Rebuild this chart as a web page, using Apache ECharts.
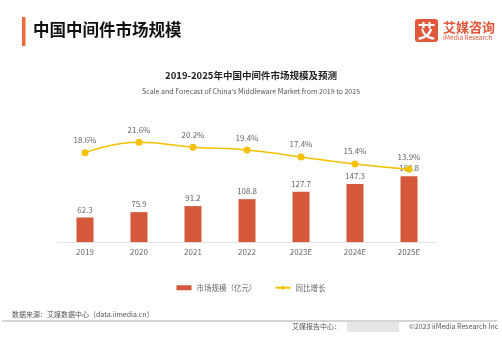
<!DOCTYPE html>
<html><head><meta charset="utf-8">
<script src="https://cdn.jsdelivr.net/npm/echarts@6/dist/echarts.min.js"></script>
<style>html,body{margin:0;padding:0;background:#fff}#c{width:502px;height:338px}</style>
</head><body><div id="c"></div>
<script>
var categories = ['2019','2020','2021','2022','2023E','2024E','2025E'];
var marketSize = [62.3, 75.9, 91.2, 108.8, 127.7, 147.3, 166.8];
var growthRate = [18.6, 21.6, 20.2, 19.4, 17.4, 15.4, 13.9];
var seriesNames = ['市场规模（亿元）', '同比增长'];

var FONT = '"Noto Sans CJK SC","Noto Sans",sans-serif';
var chart = echarts.init(document.getElementById('c'), null, {renderer:'canvas'});
chart.setOption({
  backgroundColor:'#fff',
  textStyle:{fontFamily:FONT},
  animation:false,
  title:[
    {text:'2019-2025年中国中间件市场规模及预测', left:'center', top:66,
     textStyle:{fontSize:9.5, fontWeight:'bold', color:'#222', fontFamily:FONT}},
    {text:'Scale and Forecast of China\'s Middleware Market from 2019 to 2025', left:'center', top:83,
     textStyle:{fontSize:7, fontWeight:'normal', color:'#555', fontFamily:FONT}}
  ],
  legend:{
    top:279, left:'center', itemGap:18, itemWidth:15, itemHeight:5,
    textStyle:{fontSize:7.5, color:'#666', fontFamily:FONT},
    data:[{name:seriesNames[0], icon:'rect'}, {name:seriesNames[1]}]
  },
  grid:{left:58, right:66, top:120, bottom:96},
  xAxis:{type:'category', data:categories,
    axisLine:{lineStyle:{color:'#e3e3e3'}}, axisTick:{show:false},
    axisLabel:{fontSize:8, color:'#666', margin:6, fontFamily:FONT}},
  yAxis:[
    {type:'value', min:0, max:310, show:false, splitLine:{show:false}},
    {type:'value', min:-7, max:28, show:false, splitLine:{show:false}}
  ],
  series:[
    {name:seriesNames[0], type:'bar', data:marketSize, barWidth:17, yAxisIndex:0,
     itemStyle:{color:'#D4583A'},
     label:{show:true, position:'top', fontSize:8, color:'#666', distance:4, fontFamily:FONT}},
    {name:seriesNames[1], type:'line', data:growthRate, yAxisIndex:1, smooth:true,
     symbol:'circle', symbolSize:7,
     lineStyle:{color:'#F5C000', width:1.5}, itemStyle:{color:'#F5C000'},
     label:{show:true, position:'top', fontSize:8, color:'#666', distance:5, fontFamily:FONT,
       formatter:function(p){return p.value.toFixed(1)+'%';}}}
  ],
  graphic:[
    {type:'rect', shape:{x:22, y:17, width:3.5, height:29}, style:{fill:'#EE6A3A'}},
    {type:'text', x:33, y:30, style:{text:'中国中间件市场规模', fontSize:16.5, fontWeight:'bold', fill:'#111', fontFamily:FONT, verticalAlign:'middle'}},
    {type:'rect', shape:{x:415, y:19, width:23, height:23, r:3}, style:{fill:'#E0573A'}},
    {type:'text', x:426.5, y:31, style:{text:'艾', fontSize:18, fontWeight:'bold', fill:'#fff', fontFamily:FONT, align:'center', verticalAlign:'middle'}},
    {type:'text', x:443, y:27, style:{text:'艾媒咨询', fontSize:13, fontWeight:'bold', fill:'#E0573A', fontFamily:FONT, verticalAlign:'middle'}},
    {type:'text', x:443, y:38, style:{text:'iMedia Research', fontSize:6.5, fill:'#E0573A', fontFamily:FONT, verticalAlign:'middle'}},
    {type:'text', x:12, y:314, style:{text:'数据来源：艾媒数据中心（data.iimedia.cn）', fontSize:7, fill:'#555', fontFamily:FONT, verticalAlign:'middle'}},
    {type:'line', shape:{x1:2, y1:321, x2:497, y2:321}, style:{stroke:'#aaa', lineWidth:1}},
    {type:'text', x:292, y:326, style:{text:'艾媒报告中心：', fontSize:7, fill:'#555', fontFamily:FONT, verticalAlign:'middle'}},
    {type:'rect', shape:{x:347, y:322, width:52, height:10}, style:{fill:'#e6e6e6'}},
    {type:'text', x:409, y:326, style:{text:'©2023 iiMedia Research Inc', fontSize:7, fill:'#555', fontFamily:FONT, verticalAlign:'middle'}}
  ]
});
</script></body></html>
